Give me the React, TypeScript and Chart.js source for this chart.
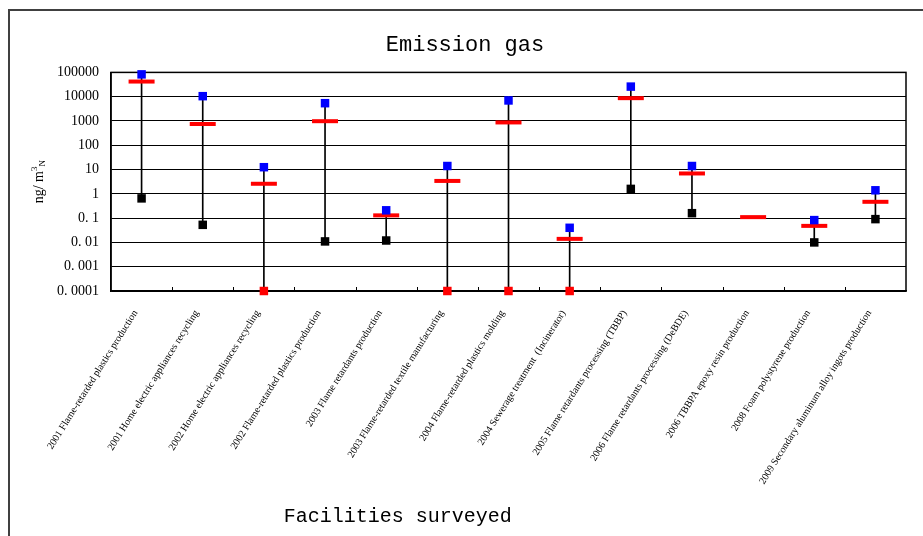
import { useEffect, useRef } from "react";
import { Chart, registerables } from "chart.js";

Chart.register(...registerables);

const chartTitle = "Emission gas";
const xAxisTitle = "Facilities surveyed";

const facilities = [
  "2001 Flame-retarded plastics production",
  "2001 Home electric appliances recycling",
  "2002 Home electric appliances recycling",
  "2002 Flame-retarded plastics production",
  "2003 Flame retardants production",
  "2003 Flame-retarded textile manufacturing",
  "2004 Flame-retarded plastics molding",
  "2004 Sewerage treatment  (Incinerator)",
  "2005 Flame retardants processing (TBBP)",
  "2006 Flame retardants processing (DeBDE)",
  "2006 TBBPA epoxy resin production",
  "2008 Foam polystyrene production",
  "2009 Secondary aluminum alloy ingots production",
];

// ng/m3N
const maximum = [83000, 10500, 12.5, 5400, 0.21, 14, 7000, 0.04, 26000, 14, null, 0.083, 1.4];
const mean = [42000, 750, 2.6, 980, 0.13, 3.4, 870, 0.014, 8700, 6.9, 0.11, 0.048, 0.47];
const minimum = [0.65, 0.053, 0.0001, 0.011, 0.012, 0.0001, 0.0001, 0.0001, 1.6, 0.16, null, 0.01, 0.091];

const detectionLimit = 0.0001;

const yTickValues = [0.0001, 0.001, 0.01, 0.1, 1, 10, 100, 1000, 10000, 100000];
const yTickLabels = ["0. 0001", "0. 001", "0. 01", "0. 1", "1", "10", "100", "1000", "10000", "100000"];

const BLUE = "#0000ff";
const RED = "#ff0000";
const BLACK = "#000000";

const decorations = {
  id: "decorations",
  beforeDatasetsDraw(chart: any) {
    const { ctx, chartArea: a, scales } = chart;
    ctx.save();
    ctx.strokeStyle = BLACK;
    ctx.lineWidth = 1.5;
    ctx.strokeRect(a.left, a.top, a.right - a.left, a.bottom - a.top);
    const x = scales.x;
    ctx.lineWidth = 1;
    ctx.beginPath();
    for (let i = 1; i < facilities.length; i++) {
      const px = Math.round((x.getPixelForTick(i - 1) + x.getPixelForTick(i)) / 2) + 0.5;
      ctx.moveTo(px, a.bottom);
      ctx.lineTo(px, a.bottom - 4);
    }
    ctx.stroke();
    ctx.restore();
  },
  afterDraw(chart: any) {
    const { ctx, chartArea: a } = chart;
    ctx.save();
    ctx.fillStyle = BLACK;
    // y-axis title: ng/m^3_N
    const big = '14px "Liberation Serif"';
    const small = '9px "Liberation Serif"';
    ctx.font = big;
    const w1 = ctx.measureText("ng/ m").width;
    ctx.font = small;
    const w2 = ctx.measureText("3").width;
    const w3 = ctx.measureText("N").width;
    const total = w1 + w2 + w3;
    const cy = (a.top + a.bottom) / 2;
    ctx.translate(a.left - 68, cy + total / 2);
    ctx.rotate(-Math.PI / 2);
    ctx.textAlign = "left";
    ctx.textBaseline = "alphabetic";
    ctx.font = big;
    ctx.fillText("ng/ m", 0, 0);
    ctx.font = small;
    ctx.fillText("3", w1, -6);
    ctx.fillText("N", w1 + w2, 2);
    ctx.restore();

    ctx.save();
    ctx.fillStyle = BLACK;
    ctx.font = '20px "Liberation Mono"';
    ctx.textAlign = "center";
    ctx.textBaseline = "middle";
    ctx.fillText(xAxisTitle, chart.width * 0.431, chart.height - 19);
    ctx.restore();
  },
};

export default function App() {
  const canvasRef = useRef<HTMLCanvasElement | null>(null);

  useEffect(() => {
    const canvas = canvasRef.current;
    if (!canvas) return;
    const ranges = minimum.map((m, i) =>
      m == null || maximum[i] == null ? null : [m, maximum[i] as number]
    );
    const chart = new Chart(canvas, {
      type: "bar",
      data: {
        labels: facilities,
        datasets: [
          {
            type: "line",
            label: "Maximum",
            data: maximum as any,
            showLine: false,
            pointStyle: "rect",
            pointRadius: 6,
            pointHoverRadius: 6,
            backgroundColor: BLUE,
            borderColor: BLUE,
            borderWidth: 0,
            order: 1,
            clip: false as any,
          },
          {
            type: "line",
            label: "Mean",
            data: mean as any,
            showLine: false,
            pointStyle: "line",
            pointRadius: 13,
            pointHoverRadius: 13,
            borderColor: RED,
            backgroundColor: RED,
            borderWidth: 4,
            order: 2,
            clip: false as any,
          },
          {
            type: "line",
            label: "Minimum",
            data: minimum as any,
            showLine: false,
            pointStyle: "rect",
            pointRadius: 6,
            pointHoverRadius: 6,
            backgroundColor: (c: any) => (c.raw != null && c.raw <= detectionLimit ? RED : BLACK),
            borderColor: BLACK,
            borderWidth: 0,
            order: 3,
            clip: false as any,
          },
          {
            type: "bar",
            label: "Range",
            data: ranges as any,
            backgroundColor: BLACK,
            borderWidth: 0,
            barThickness: 1,
            order: 4,
            clip: false as any,
          },
        ],
      },
      options: {
        responsive: false,
        animation: false,
        events: [],
        layout: { padding: { left: 14, right: 7, top: 0, bottom: 0 } },
        plugins: {
          legend: { display: false },
          tooltip: { enabled: false },
          title: {
            display: true,
            text: chartTitle,
            color: BLACK,
            font: { family: "Liberation Mono", size: 22, weight: "normal" },
            padding: { top: 32, bottom: 14 },
          },
        },
        scales: {
          x: {
            type: "category",
            offset: true,
            grid: { display: true, drawOnChartArea: false, drawTicks: false },
            border: { display: true, color: BLACK, width: 1.5 },
            ticks: {
              autoSkip: false,
              minRotation: 58,
              maxRotation: 58,
              color: BLACK,
              padding: 17,
              labelOffset: -6,
              font: { family: "Liberation Serif", size: 10 },
            },
            afterFit: (s: any) => {
              s.height = 245;
            },
          },
          y: {
            type: "logarithmic",
            min: 0.0001,
            max: 100000,
            afterBuildTicks: (s: any) => {
              s.ticks = yTickValues.map((v) => ({ value: v }));
            },
            ticks: {
              autoSkip: false,
              color: BLACK,
              padding: 12,
              font: { family: "Liberation Serif", size: 14 },
              callback: (_v: any, i: number) => yTickLabels[i],
            },
            grid: { color: BLACK, lineWidth: 1, drawTicks: false },
            border: { display: true, color: BLACK, width: 1.5 },
            afterFit: (s: any) => {
              s.width = 97;
            },
          },
        },
      },
      plugins: [decorations],
    });
    return () => chart.destroy();
  }, []);

  return (
    <div
      style={{
        position: "fixed",
        left: 0,
        top: 0,
        width: 923,
        height: 536,
        overflow: "hidden",
        background: "#ffffff",
      }}
    >
      <div
        style={{
          position: "absolute",
          left: 8,
          top: 9,
          width: 960,
          height: 600,
          border: "2px solid #404040",
          boxSizing: "border-box",
        }}
      />
      <canvas
        ref={canvasRef}
        width={923}
        height={536}
        style={{ position: "absolute", left: 0, top: 0, width: 923, height: 536 }}
      />
    </div>
  );
}
